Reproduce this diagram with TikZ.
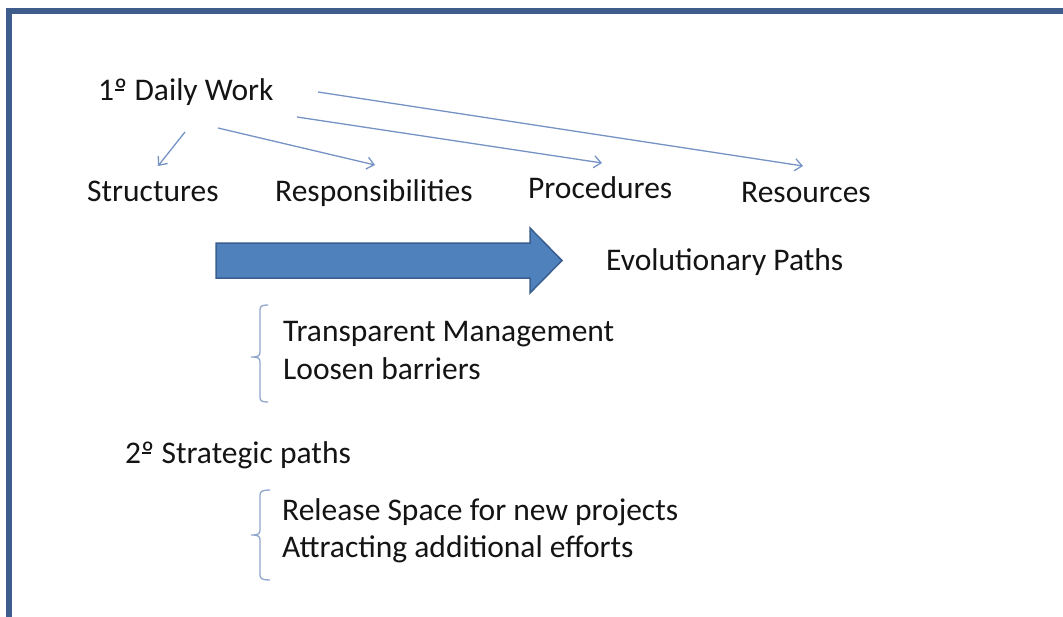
\documentclass[tikz,border=0pt]{standalone}
\usepackage{fontspec}
\setmainfont{Carlito}
\usetikzlibrary{arrows.meta}
\definecolor{frameblue}{HTML}{3E5C8C}
\definecolor{linkblue}{HTML}{7693C6}
\definecolor{arrowfill}{HTML}{4F81BD}
\definecolor{arrowedge}{HTML}{3A5F8F}
\definecolor{bracecol}{HTML}{8FA7CC}
% ordinal indicator with its underbar
\newcommand\ordmark{\makebox[0pt][l]{\hspace{0.02em}\rule[0.30em]{0.30em}{0.045em}}º}
\begin{document}
\begin{tikzpicture}[x=1pt,y=-1pt,
  txt/.style={inner sep=0pt, anchor=base west, font=\fontsize{31.5}{38}\selectfont, text=black!92},
  link/.style={draw=linkblue, line width=1.3pt, -{Straight Barb[length=7pt,width=12pt]}},
  bracket/.style={draw=bracecol, line width=1.3pt}]
\useasboundingbox (0,0) rectangle (1063,616);
\fill[white] (0,0) rectangle (1063,616);
% frame (top and left edges)
\draw[frameblue, line width=6pt] (9,630) -- (9,11) -- (1075,11);

% texts
\node[txt] (daily)   at (98,100)  {1\ordmark{} Daily Work};
\node[txt] (struct)  at (87,201)  {Structures};
\node[txt] (resp)    at (275,201) {Responsibilities};
\node[txt] (proc)    at (528,198) {Procedures};
\node[txt] (res)     at (741,202) {Resources};
\node[txt] (evo)     at (606,270) {Evolutionary Paths};
\node[txt] (transp)  at (283,341) {Transparent Management};
\node[txt] (loosen)  at (283,379) {Loosen barriers};
\node[txt] (strat)   at (125,463) {2\ordmark{} Strategic paths};
\node[txt] (release) at (282,520) {Release Space for new projects};
\node[txt] (attract) at (282,557) {Attracting additional efforts};

% thin arrows from Daily Work
\coordinate (s1) at (185,132); \coordinate (e1) at (158,166);
\coordinate (s2) at (218,128); \coordinate (e2) at (375,165);
\coordinate (s3) at (297,117); \coordinate (e3) at (602,163);
\coordinate (s4) at (318,92);  \coordinate (e4) at (803,166);
\draw[link] (s1) -- (e1);
\draw[link] (s2) -- (e2);
\draw[link] (s3) -- (e3);
\draw[link] (s4) -- (e4);

% block arrow
\draw[fill=arrowfill, draw=arrowedge, line width=1.5pt, line join=miter]
  (216,243) -- (530,243) -- (530,228) -- (562,260.5) -- (530,293) -- (530,278) -- (216,278) -- cycle;

% brackets
\draw[bracket] (268,305) .. controls (262,305) and (260,306) .. (260,310) -- (260,352)
  .. controls (260,356) and (258,357) .. (251,357)
  .. controls (258,357) and (260,358) .. (260,362) -- (260,397)
  .. controls (260,401) and (262,402) .. (268,402);
\draw[bracket] (270,490) .. controls (263,490) and (260,491) .. (260,495) -- (260,530)
  .. controls (260,534) and (258,535) .. (251,535)
  .. controls (258,535) and (260,536) .. (260,540) -- (260,575)
  .. controls (260,579) and (263,580) .. (270,580);
\end{tikzpicture}
\end{document}
